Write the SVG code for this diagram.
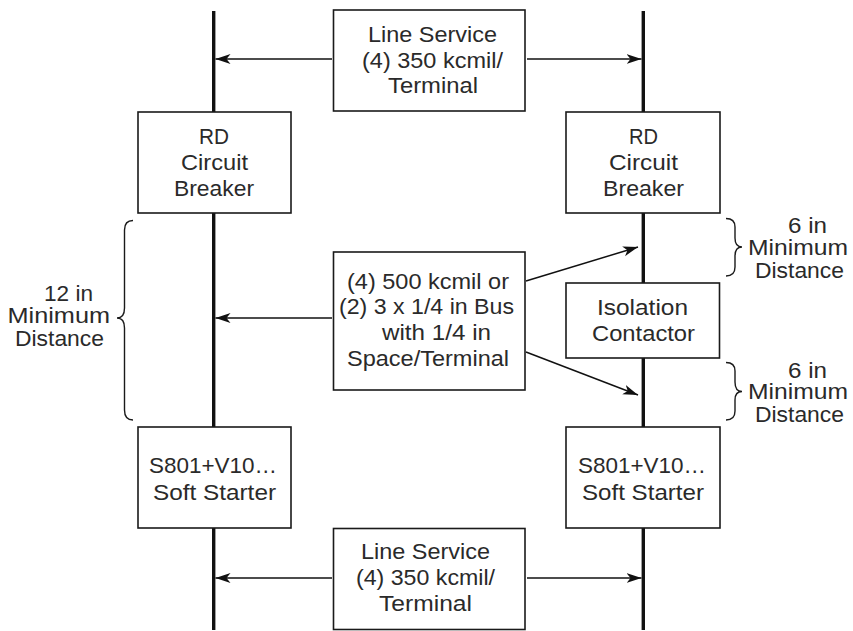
<svg xmlns="http://www.w3.org/2000/svg" width="853" height="631" viewBox="0 0 853 631">
<style>
text{font-family:"Liberation Sans",Arial,sans-serif;font-size:22.5px;fill:#2a2a2a;text-anchor:start}
.b{fill:#fff;stroke:#1a1a1a;stroke-width:1.6}
.bus{stroke:#111;stroke-width:3.4;fill:none}
.c{stroke:#1a1a1a;stroke-width:1.4;fill:none}
.a{stroke:#111;stroke-width:1.5;fill:none;marker-end:url(#m)}
</style>
<defs><marker id="m" markerUnits="userSpaceOnUse" markerWidth="16" markerHeight="12" refX="15" refY="6" orient="auto"><path d="M0 1L15 6L0 11L4 6Z" fill="#111"/></marker></defs>
<g id="connectors">
<path class="bus" d="M213.700 11V112M213.700 213V427M213.700 528V630M643.300 11V112M643.300 213V283M643.300 358V427M643.300 528V630"/>
<path class="a" d="M332 59H215.500"/><path class="a" d="M527 59H641.500"/>
<path class="a" d="M332 318H215.500"/><path class="a" d="M526 281L638 247"/><path class="a" d="M526 352L638 395"/>
<path class="a" d="M332 578H215.500"/><path class="a" d="M527 578H641.500"/>
<path class="c" d="M133 220.500Q124.500 220.500 124.500 230V308Q124.500 318 117 318Q124.500 318 124.500 328V410Q124.500 420 133 420"/>
<path class="c" d="M726 218.500Q735 218.500 735 227V238Q735 247 742 247Q735 247 735 256V267Q735 276 726 276"/>
<path class="c" d="M726 362.500Q735 362.500 735 371V382Q735 391.500 742 391.500Q735 391.500 735 400V411Q735 420 726 420"/>
</g>
<g id="line-top"><rect class="b" x="333.500" y="10" width="191.500" height="101"/><text x="368" y="42" textLength="129" lengthAdjust="spacingAndGlyphs">Line Service</text><text x="362" y="68" textLength="141" lengthAdjust="spacingAndGlyphs">(4) 350 kcmil/</text><text x="388" y="93" textLength="90" lengthAdjust="spacingAndGlyphs">Terminal</text></g>
<g id="rd-left"><rect class="b" x="138" y="112" width="153" height="101"/><text x="199" y="144" textLength="30" lengthAdjust="spacingAndGlyphs">RD</text><text x="181" y="170" textLength="67" lengthAdjust="spacingAndGlyphs">Circuit</text><text x="174" y="196" textLength="80" lengthAdjust="spacingAndGlyphs">Breaker</text></g>
<g id="rd-right"><rect class="b" x="566" y="112" width="154" height="101"/><text x="629" y="144" textLength="29" lengthAdjust="spacingAndGlyphs">RD</text><text x="609" y="170" textLength="69" lengthAdjust="spacingAndGlyphs">Circuit</text><text x="603" y="196" textLength="81" lengthAdjust="spacingAndGlyphs">Breaker</text></g>
<g id="center"><rect class="b" x="333.500" y="252" width="191.500" height="138"/><text x="347" y="289" textLength="162" lengthAdjust="spacingAndGlyphs">(4) 500 kcmil or</text><text x="339" y="314" textLength="175" lengthAdjust="spacingAndGlyphs">(2) 3 x 1/4 in Bus</text><text x="382" y="340" textLength="109" lengthAdjust="spacingAndGlyphs">with 1/4 in</text><text x="347" y="366" textLength="162" lengthAdjust="spacingAndGlyphs">Space/Terminal</text></g>
<g id="isolation"><rect class="b" x="566" y="283" width="153.500" height="75"/><text x="597" y="315" textLength="91" lengthAdjust="spacingAndGlyphs">Isolation</text><text x="592" y="341" textLength="103" lengthAdjust="spacingAndGlyphs">Contactor</text></g>
<g id="ss-left"><rect class="b" x="138" y="427" width="153" height="101"/><text x="149" y="473" textLength="128" lengthAdjust="spacingAndGlyphs">S801+V10…</text><text x="153" y="500" textLength="123" lengthAdjust="spacingAndGlyphs">Soft Starter</text></g>
<g id="ss-right"><rect class="b" x="566" y="427" width="154" height="101"/><text x="578" y="473" textLength="128" lengthAdjust="spacingAndGlyphs">S801+V10…</text><text x="582" y="500" textLength="122" lengthAdjust="spacingAndGlyphs">Soft Starter</text></g>
<g id="line-bottom"><rect class="b" x="333.500" y="528.500" width="191.500" height="101"/><text x="361" y="559" textLength="129" lengthAdjust="spacingAndGlyphs">Line Service</text><text x="356" y="585" textLength="139" lengthAdjust="spacingAndGlyphs">(4) 350 kcmil/</text><text x="379" y="611" textLength="93" lengthAdjust="spacingAndGlyphs">Terminal</text></g>
<g id="label-12"><text x="44" y="301" textLength="49" lengthAdjust="spacingAndGlyphs">12 in</text><text x="7.500" y="323" textLength="102.500" lengthAdjust="spacingAndGlyphs">Minimum</text><text x="15" y="346" textLength="89" lengthAdjust="spacingAndGlyphs">Distance</text></g>
<g id="label-6a"><text x="788" y="233" textLength="39" lengthAdjust="spacingAndGlyphs">6 in</text><text x="748" y="255" textLength="100" lengthAdjust="spacingAndGlyphs">Minimum</text><text x="755" y="278" textLength="89" lengthAdjust="spacingAndGlyphs">Distance</text></g>
<g id="label-6b"><text x="788" y="378" textLength="39" lengthAdjust="spacingAndGlyphs">6 in</text><text x="748" y="399" textLength="100" lengthAdjust="spacingAndGlyphs">Minimum</text><text x="755" y="422" textLength="89" lengthAdjust="spacingAndGlyphs">Distance</text></g>
</svg>
